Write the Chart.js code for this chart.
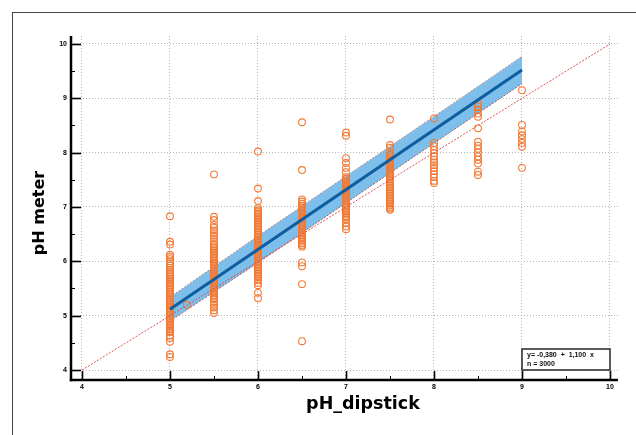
<!DOCTYPE html>
<html><head><meta charset="utf-8">
<script src="https://cdn.jsdelivr.net/npm/chart.js@4.4.0/dist/chart.umd.min.js"></script>
<style>
html,body{margin:0;padding:0;background:#fff;}
#wrap{position:relative;width:636px;height:435px;overflow:hidden;background:#fff;}
#frame{position:absolute;left:12px;top:12px;width:700px;height:500px;border-left:1.5px solid #444;border-top:1.5px solid #444;}
canvas{position:absolute;left:0;top:0;}
</style></head><body>
<div id="wrap"><div id="frame"></div><canvas id="c" width="636" height="435"></canvas></div>
<script>
const xTicks=[4,5,6,7,8,9,10];
const yTicks=[4,5,6,7,8,9,10];
const xMinor=[4.5,5.5,6.5,7.5,8.5,9.5];
const yMinor=[4.5,5.5,6.5,7.5,8.5,9.5];
const xTitle='pH_dipstick';
const yTitle='pH meter';
const eqText='y= -0,380  +  1,100  x';
const nText='n = 3000';

// pH meter readings for each dipstick value
const col5=[6.83,6.36,6.31,6.12,6.08,6.04,6.00,5.96,5.92,5.88,5.84,5.80,5.77,5.74,5.71,5.68,5.65,5.62,5.59,5.56,5.53,5.50,5.47,5.44,5.41,5.38,5.35,5.32,5.29,5.26,5.23,5.20,5.17,5.14,5.11,5.08,5.05,5.02,4.99,4.96,4.93,4.90,4.87,4.84,4.81,4.78,4.75,4.72,4.70,4.64,4.59,4.52,4.29,4.24];
const col55=[7.60,6.82,6.76,6.67,6.62,6.57,6.52,6.47,6.42,6.37,6.32,6.28,6.25,6.22,6.19,6.16,6.13,6.10,6.07,6.04,6.01,5.98,5.95,5.92,5.89,5.86,5.83,5.80,5.77,5.74,5.71,5.68,5.65,5.62,5.59,5.56,5.53,5.50,5.47,5.44,5.41,5.38,5.35,5.32,5.30,5.25,5.20,5.15,5.10,5.05];
const col6=[8.02,7.34,7.11,6.98,6.94,6.91,6.88,6.85,6.82,6.79,6.76,6.73,6.70,6.67,6.64,6.61,6.58,6.55,6.52,6.49,6.46,6.43,6.40,6.37,6.34,6.31,6.28,6.25,6.22,6.19,6.16,6.13,6.10,6.07,6.04,6.01,5.98,5.95,5.92,5.89,5.86,5.83,5.80,5.77,5.74,5.71,5.65,5.60,5.56,5.42,5.32];
const col65=[8.56,7.68,7.14,7.10,7.06,7.02,6.99,6.96,6.93,6.90,6.87,6.84,6.81,6.78,6.75,6.72,6.69,6.66,6.63,6.60,6.57,6.54,6.51,6.48,6.45,6.42,6.39,6.36,6.33,6.30,6.27,5.98,5.91,5.58,4.53];
const col7=[8.37,8.31,7.90,7.81,7.72,7.64,7.55,7.52,7.49,7.46,7.43,7.40,7.37,7.34,7.31,7.28,7.25,7.22,7.19,7.16,7.13,7.10,7.07,7.04,7.01,6.98,6.95,6.92,6.89,6.86,6.83,6.80,6.77,6.70,6.64,6.59];
const col75=[8.61,8.14,8.09,7.99,7.96,7.93,7.90,7.87,7.84,7.81,7.78,7.75,7.72,7.69,7.66,7.63,7.60,7.57,7.54,7.51,7.48,7.45,7.42,7.39,7.36,7.33,7.30,7.27,7.24,7.21,7.18,7.15,7.12,7.09,7.06,7.03,7.00,6.97,6.95];
const col8=[8.63,8.18,8.12,8.05,7.99,7.93,7.87,7.82,7.77,7.72,7.66,7.60,7.55,7.48,7.44];
const col85=[8.90,8.85,8.79,8.72,8.66,8.45,8.20,8.13,8.07,8.00,7.93,7.87,7.80,7.65,7.59];
const col9=[9.15,8.51,8.39,8.32,8.25,8.18,8.11,7.72];
const extraPoints=[[5.19,5.20]];

const regression=[[5,5.12],[9,9.52]];
const bandUpper=[[5,5.34],[6,6.465],[7,7.565],[8,8.665],[9,9.77]];
const bandLower=[[5,4.90],[6,5.975],[7,7.075],[8,8.175],[9,9.27]];
const identity=[[4,4],[10,10]];

const columns=[[5,col5],[5.5,col55],[6,col6],[6.5,col65],[7,col7],[7.5,col75],[8,col8],[8.5,col85],[9,col9]];
const scatterData=[];
columns.forEach(([xv,arr])=>arr.forEach(yv=>scatterData.push({x:xv,y:yv})));
extraPoints.forEach(([a,b])=>scatterData.push({x:a,y:b}));
const toXY=arr=>arr.map(([a,b])=>({x:a,y:b}));

const deco={id:'deco',afterDatasetsDraw(chart){
  const {ctx,chartArea:a,scales:{x,y}}=chart;
  ctx.save();
  ctx.strokeStyle='#000';
  const ln=(x1,y1,x2,y2)=>{ctx.beginPath();ctx.moveTo(x1,y1);ctx.lineTo(x2,y2);ctx.stroke();};
  ctx.lineWidth=1.6;
  xTicks.forEach(v=>{const p=Math.round(x.getPixelForValue(v))+0.5;ln(p,a.bottom,p,a.bottom-9);});
  yTicks.forEach(v=>{const p=Math.round(y.getPixelForValue(v))+0.5;ln(a.left,p,a.left+10,p);});
  ctx.lineWidth=1;
  xMinor.forEach(v=>{const p=Math.round(x.getPixelForValue(v))+0.5;ln(p,a.bottom,p,a.bottom-4);});
  yMinor.forEach(v=>{const p=Math.round(y.getPixelForValue(v))+0.5;ln(a.left,p,a.left+4,p);});
  ctx.lineWidth=2.5;
  ln(a.left,a.top,a.left,a.bottom+1.2);
  ln(a.left-1.2,a.bottom,a.right,a.bottom);
  // equation box
  const bl=x.getPixelForValue(9), br=x.getPixelForValue(10), bb=y.getPixelForValue(4), bt=bb-21;
  ctx.fillStyle='#fff';
  ctx.fillRect(bl,bt,br-bl,bb-bt);
  ctx.lineWidth=1.6; ctx.strokeStyle='#333';
  ctx.strokeRect(bl,bt,br-bl,bb-bt);
  ctx.fillStyle='#111';
  ctx.font='bold 7px "Liberation Sans", Arial, sans-serif';
  ctx.textBaseline='middle'; ctx.textAlign='left';
  ctx.fillText(eqText,bl+5,bt+6);
  ctx.fillText(nText,bl+5,bt+15);
  // axis titles
  ctx.fillStyle='#000';
  ctx.textAlign='center'; ctx.textBaseline='middle';
  ctx.font='bold 17.5px "DejaVu Sans", sans-serif';
  ctx.fillText(xTitle,363,404);
  ctx.save();
  ctx.translate(40,213);
  ctx.rotate(-Math.PI/2);
  ctx.font='bold 16px "DejaVu Sans", sans-serif';
  ctx.fillText(yTitle,0,0);
  ctx.restore();
  ctx.restore();
}};

new Chart(document.getElementById('c'),{
  type:'scatter',
  data:{datasets:[
    {label:'upper',type:'line',data:toXY(bandUpper),borderColor:'#c0392b',borderWidth:0.8,borderDash:[2,1.5],pointRadius:0,fill:false,tension:0,order:6},
    {label:'lower',type:'line',data:toXY(bandLower),borderColor:'#c0392b',borderWidth:0.8,borderDash:[2,1.5],pointRadius:0,fill:'-1',backgroundColor:'#7dbfea',tension:0,order:5},
    {label:'points',data:scatterData,pointStyle:'circle',pointRadius:3.4,pointBorderWidth:1.1,borderColor:'#f27a35',pointBorderColor:'#f27a35',backgroundColor:'rgba(0,0,0,0)',pointBackgroundColor:'rgba(0,0,0,0)',order:4},
    {label:'identity',type:'line',data:toXY(identity),borderColor:'#dd4f4f',borderWidth:1,borderDash:[2,1.5],pointRadius:0,fill:false,order:2},
    {label:'fit',type:'line',data:toXY(regression),borderColor:'#0f5c9e',borderWidth:3,pointRadius:0,fill:false,order:1}
  ]},
  options:{
    responsive:false,animation:false,devicePixelRatio:1,
    layout:{padding:{left:0,right:18,top:36,bottom:0}},
    plugins:{legend:{display:false},tooltip:{enabled:false}},
    scales:{
      x:{type:'linear',min:3.875,max:10.091,
        afterBuildTicks:s=>{s.ticks=xTicks.map(v=>({value:v}));},
        afterFit:s=>{s.height=55;},
        ticks:{color:'#000',font:{family:'"Liberation Sans", Arial, sans-serif',size:7,weight:'bold'},padding:3,maxRotation:0,autoSkip:false,callback:v=>String(v)},
        grid:{color:'#b5b5b5',lineWidth:1,drawTicks:false},
        border:{display:false,dash:[1,2]},
        title:{display:false}
      },
      y:{type:'linear',min:3.816,max:10.147,
        afterBuildTicks:s=>{s.ticks=yTicks.map(v=>({value:v}));},
        afterFit:s=>{s.width=71;},
        ticks:{color:'#000',font:{family:'"Liberation Sans", Arial, sans-serif',size:7,weight:'bold'},padding:4,autoSkip:false,callback:v=>String(v)},
        grid:{color:'#b5b5b5',lineWidth:1,drawTicks:false},
        border:{display:false,dash:[1,2]},
        title:{display:false}
      }
    }
  },
  plugins:[deco]
});
</script>
</body></html>
